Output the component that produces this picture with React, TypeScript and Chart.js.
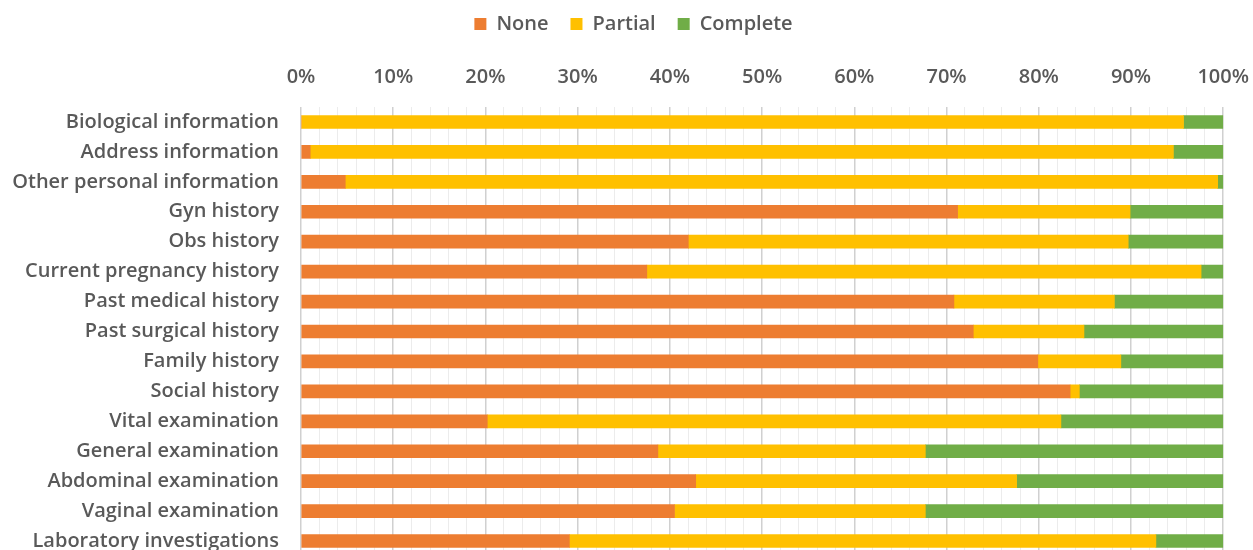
import React, { useEffect, useRef } from "react";
import { Chart, registerables } from "chart.js";

Chart.register(...registerables);

const categories = [
  "Biological information",
  "Address information",
  "Other personal information",
  "Gyn history",
  "Obs history",
  "Current pregnancy history",
  "Past medical history",
  "Past surgical history",
  "Family history",
  "Social history",
  "Vital examination",
  "General examination",
  "Abdominal examination",
  "Vaginal examination",
  "Laboratory investigations",
];

const noneValues = [0, 1.0, 4.8, 71.2, 42.0, 37.5, 70.8, 72.9, 79.9, 83.4, 20.2, 38.7, 42.8, 40.5, 29.1];
const partialValues = [95.7, 93.6, 94.6, 18.7, 47.7, 60.1, 17.4, 12.0, 9.0, 1.0, 62.2, 29.0, 34.8, 27.2, 63.6];
const completeValues = [4.3, 5.4, 0.6, 10.1, 10.3, 2.4, 11.8, 15.1, 11.1, 15.6, 17.6, 32.3, 22.4, 32.3, 7.3];

const seriesNames = ["None", "Partial", "Complete"];
const seriesColors = ["#ED7D31", "#FFC000", "#70AD47"];

const textColor = "#595959";
const fontFamily = "'Open Sans', 'Noto Sans', sans-serif";

const CANVAS_W = 1267;
const CANVAS_H = 590;

export default function App() {
  const canvasRef = useRef<HTMLCanvasElement | null>(null);

  useEffect(() => {
    if (!canvasRef.current) return;
    const values = [noneValues, partialValues, completeValues];
    const chart = new Chart(canvasRef.current, {
      type: "bar",
      data: {
        labels: categories,
        datasets: seriesNames.map((name, i) => ({
          label: name,
          data: values[i],
          backgroundColor: seriesColors[i],
          borderWidth: 0,
          barThickness: 13,
        })),
      },
      options: {
        indexAxis: "y",
        animation: false,
        responsive: false,
        maintainAspectRatio: false,
        layout: { padding: { top: -8, bottom: 0, left: 0, right: 0 } },
        plugins: {
          legend: {
            position: "top",
            align: "center",
            labels: {
              boxWidth: 12,
              boxHeight: 12,
              padding: 22,
              color: textColor,
              font: { family: fontFamily, size: 20, weight: 600 },
            },
          },
          tooltip: { enabled: false },
        },
        scales: {
          x: {
            position: "top",
            stacked: true,
            min: 0,
            max: 100,
            border: { display: false },
            grid: {
              drawTicks: false,
              color: (ctx: any) => (ctx.tick && ctx.tick.value % 10 === 0 ? "#d0d0d0" : "#ececec"),
              lineWidth: (ctx: any) => (ctx.tick && ctx.tick.value % 10 === 0 ? 1.5 : 1),
            },
            ticks: {
              stepSize: 2,
              autoSkip: false,
              maxRotation: 0,
              padding: 18,
              color: textColor,
              font: { family: fontFamily, size: 20, weight: 600 },
              callback: (v: any) => (Number(v) % 10 === 0 ? `${v}%` : ""),
            },
            afterFit: (scale: any) => {
              scale.height += 3;
            },
          },
          y: {
            stacked: true,
            border: { display: false },
            grid: { display: false, drawTicks: false },
            ticks: {
              padding: 22,
              color: textColor,
              font: { family: fontFamily, size: 20, weight: 600 },
            },
            afterFit: (scale: any) => {
              scale.width = 301;
            },
          },
        },
      },
    });
    return () => chart.destroy();
  }, []);

  return (
    <div style={{ position: "fixed", left: 0, top: 0, width: CANVAS_W, height: CANVAS_H, background: "#fff" }}>
      <canvas ref={canvasRef} width={CANVAS_W} height={CANVAS_H} />
    </div>
  );
}
